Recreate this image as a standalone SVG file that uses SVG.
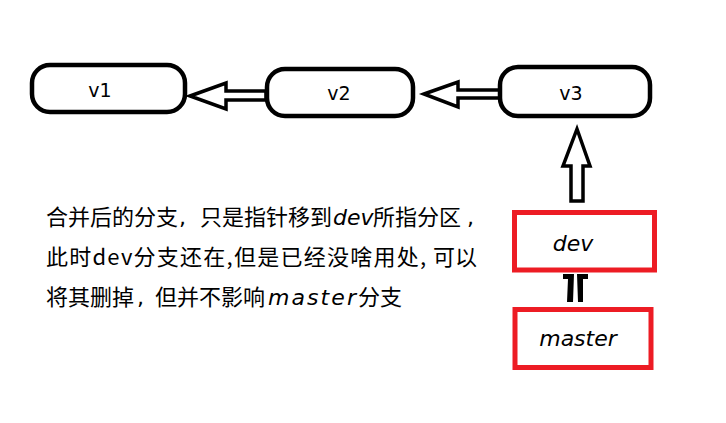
<svg xmlns="http://www.w3.org/2000/svg" width="726" height="423" viewBox="0 0 726 423">
<style>
.commit{fill:#fff;stroke:#000;stroke-width:4.5}
.branch{fill:#fff;stroke:#ED1C24;stroke-width:5}
.arrow{fill:#fff;stroke:#000;stroke-width:3.5;stroke-linejoin:miter}
.bar{fill:#000}
.vlabel{font-family:"DejaVu Sans",sans-serif;font-size:19px;fill:#000;text-anchor:middle}
.blabel{font-family:"DejaVu Sans",sans-serif;font-style:italic;font-size:22px;fill:#000;text-anchor:middle}
.note{font-family:"Noto Sans CJK SC","Noto Sans",sans-serif;font-size:22px;fill:#000}
.it{font-family:"DejaVu Sans",sans-serif;font-style:italic}
.lat{font-family:"DejaVu Sans",sans-serif}
</style>
<rect width="726" height="423" fill="#fff"/>
<g id="connectors">
<polygon class="arrow" points="190,96 226,83 226,91 266,91 266,100 226,100 226,109"/>
<polygon class="arrow" points="424,94 458,82 458,90 500,90 500,98 458,98 458,107"/>
<polygon class="arrow" points="577,129 563,166 571,166 571,201 583,201 583,166 590,166"/>
<polygon class="bar" points="563,274 574,274 573,302 567,302 568,279 563,279"/>
<polygon class="bar" points="577,274 588,274 588,279 583,279 583,302 578,302"/>
</g>
<g id="v1">
<rect class="commit" x="32" y="65" width="153" height="47" rx="18"/>
<text class="vlabel" x="100" y="97">v1</text>
</g>
<g id="v2">
<rect class="commit" x="267" y="69" width="146" height="47" rx="18"/>
<text class="vlabel" x="339" y="100">v2</text>
</g>
<g id="v3">
<rect class="commit" x="500" y="67" width="150" height="49" rx="18"/>
<text class="vlabel" x="571" y="100">v3</text>
</g>
<g id="dev">
<rect class="branch" x="514.5" y="212.5" width="140" height="57.5"/>
<text class="blabel" x="573" y="251">dev</text>
</g>
<g id="master">
<rect class="branch" x="515" y="309.5" width="136" height="58"/>
<text class="blabel" x="578" y="346">master</text>
</g>
<g id="note">
<text class="note" y="225"><tspan x="46">合并后的分支</tspan><tspan class="lat" x="179">,</tspan><tspan x="200">只是指针移到</tspan><tspan class="it" x="333">dev</tspan><tspan x="373">所指分区</tspan><tspan class="lat" x="467">,</tspan></text>
<text class="note" y="265"><tspan x="46" textLength="380" lengthAdjust="spacing">此时dev分支还在,但是已经没啥用处,</tspan><tspan x="433">可以</tspan></text>
<text class="note" y="305"><tspan x="46">将其删掉</tspan><tspan class="lat" x="137">,</tspan><tspan x="155">但并不影响</tspan><tspan class="it" x="268" textLength="88" lengthAdjust="spacing">master</tspan><tspan x="358">分支</tspan></text>
</g>
</svg>
